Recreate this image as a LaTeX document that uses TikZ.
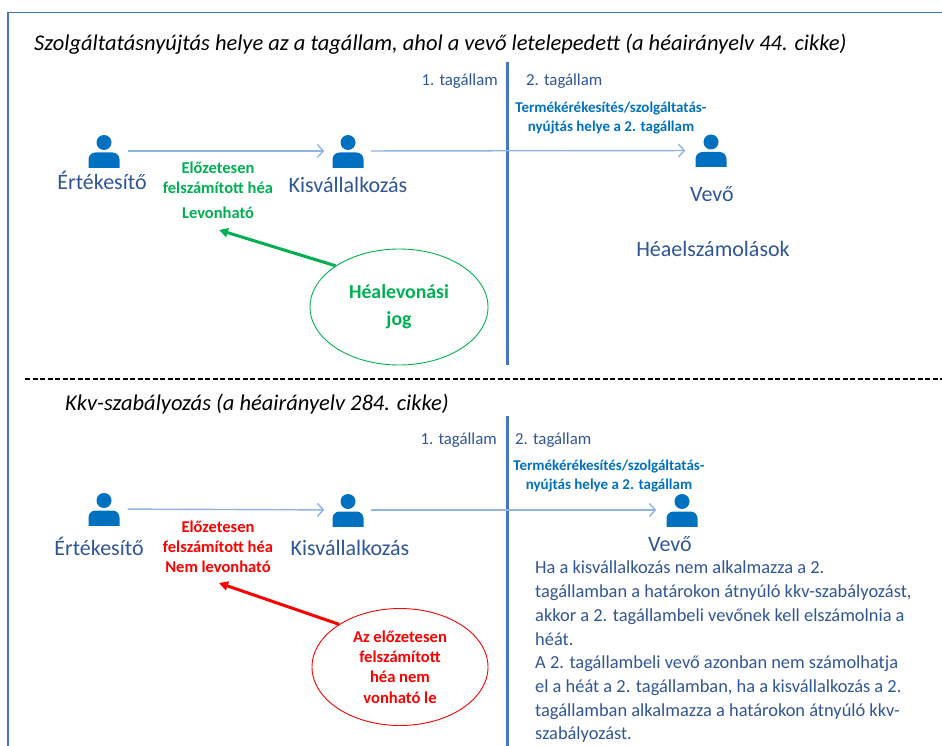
\documentclass[tikz,border=0pt]{standalone}
\usepackage{fontspec}
\setmainfont{Carlito}
\usetikzlibrary{arrows.meta,shapes.geometric}
\definecolor{frameblue}{RGB}{68,114,196}
\definecolor{txtblue}{RGB}{47,85,151}
\definecolor{iconblue}{RGB}{0,112,192}
\definecolor{boldblue}{RGB}{0,112,192}
\definecolor{flowblue}{RGB}{143,180,225}
\definecolor{okgreen}{RGB}{0,176,80}
\definecolor{nored}{RGB}{255,0,0}
\begin{document}
\begin{tikzpicture}[x=1pt,y=-1pt,
  person/.style={minimum width=31pt, minimum height=33pt, inner sep=0pt,
    path picture={
      \begin{scope}[shift={(path picture bounding box.center)}]
        \fill[iconblue] (0,-8.5) circle (7.5pt);
        \fill[iconblue, rounded corners=7pt] (-15.5,26) -- (-15.5,1.5) -- (15.5,1.5) -- (15.5,26) -- cycle;
      \end{scope}}},
  flow/.style={draw=flowblue, line width=1.4pt, -{Straight Barb[length=6pt,width=13pt]}},
  titletxt/.style={font=\fontsize{22.5}{27}\selectfont\itshape, anchor=base west, inner sep=0pt},
  statetxt/.style={font=\fontsize{16.8}{20}\selectfont, text=txtblue, anchor=base, inner sep=0pt},
  nametxt/.style={font=\fontsize{22}{26}\selectfont, text=txtblue, anchor=base, inner sep=0pt},
  placetxt/.style={font=\fontsize{15}{19}\selectfont\bfseries, text=boldblue, align=center, inner sep=0pt},
  greentxt/.style={font=\fontsize{16.5}{20}\selectfont\bfseries, text=okgreen, align=center, inner sep=0pt},
  redtxt/.style={font=\fontsize{16.5}{20}\selectfont\bfseries, text=nored, align=center, inner sep=0pt},
  bubble/.style={ellipse, draw, line width=0.9pt, inner sep=0pt, align=center},
  divider/.style={draw=frameblue, line width=3pt}
]
\path[use as bounding box] (0,0) rectangle (942,746);
% frame
\coordinate (fl) at (8,12.5);
\coordinate (fr) at (942,12.5);
\coordinate (fb) at (8,746);
\draw[frameblue, line width=1.8pt] (fb) -- (fl) -- (fr);

% ===== top part =====
\node[titletxt] (t1) at (34,51) {Szolgáltatásnyújtás helye az a tagállam, ahol a vevő letelepedett (a héairányelv 44. cikke)};
\coordinate (v1a) at (507,62);
\coordinate (v1b) at (507,365);
\draw[divider] (v1a) -- (v1b);
\node[statetxt, anchor=base east] (s11) at (498,86) {1. tagállam};
\node[statetxt, anchor=base west] (s12) at (526,86) {2. tagállam};
\node[placetxt] (p1) at (611,118.5) {Termékérékesítés/szolgáltatás-\\nyújtás helye a 2. tagállam};

\node[person] (e1) at (104,151) {};
\node[person] (k1) at (348,151) {};
\node[person] (v1) at (711,150.5) {};
\draw[flow, shorten <=8pt, shorten >=8pt] (e1) -- (k1);
\draw[flow, shorten <=7.5pt, shorten >=10pt] (k1) -- (v1);

\node[nametxt] (en1) at (102,190) {Értékesítő};
\node[nametxt] (kn1) at (348,193) {Kisvállalkozás};
\node[nametxt] (vn1) at (712,201) {Vevő};
\node[greentxt] (g1) at (218,190.5) {Előzetesen\\felszámított héa\\[5pt]Levonható};
\node[nametxt] (h1) at (713,256) {Héaelszámolások};

\node[bubble, draw=okgreen, text=okgreen, minimum width=178pt, minimum height=116pt,
      font=\fontsize{19.8}{27}\selectfont\bfseries] (c1) at (399,307) {Héalevonási\\jog};
\coordinate (gt) at (219,230);
\draw[okgreen, line width=3pt, -{Triangle[length=9pt,width=9pt]}] (c1.147) -- (gt);

% divider
\coordinate (da) at (25,379);
\coordinate (db) at (942,379);
\draw[black, line width=1.2pt, dash pattern=on 5pt off 2.5pt] (da) -- (db);

% ===== bottom part =====
\node[titletxt] (t2) at (65,410) {Kkv-szabályozás (a héairányelv 284. cikke)};
\coordinate (v2a) at (507,416);
\coordinate (v2b) at (507,746);
\draw[divider] (v2a) -- (v2b);
\node[statetxt, anchor=base east] (s21) at (497,444) {1. tagállam};
\node[statetxt, anchor=base west] (s22) at (515,444) {2. tagállam};
\node[placetxt] (p2) at (609,476.5) {Termékérékesítés/szolgáltatás-\\nyújtás helye a 2. tagállam};

\node[person] (e2) at (104,509) {};
\node[person] (k2) at (348,510) {};
\node[person] (v2) at (682,510) {};
\draw[flow, shorten <=8pt, shorten >=8pt] (e2) -- (k2);
\draw[flow, shorten <=7.5pt, shorten >=10pt] (k2) -- (v2);

\node[nametxt] (en2) at (99,555) {Értékesítő};
\node[nametxt] (kn2) at (350,555) {Kisvállalkozás};
\node[nametxt] (vn2) at (670,551) {Vevő};
\node[redtxt] (r2) at (218,547) {Előzetesen\\felszámított héa\\Nem levonható};

\node[bubble, draw=nored, text=nored, minimum width=176pt, minimum height=117pt,
      font=\fontsize{16.6}{20.3}\selectfont\bfseries] (c2) at (400,667) {Az előzetesen\\felszámított\\héa nem\\vonható le};
\coordinate (rt) at (219,583);
\draw[nored, line width=3pt, -{Triangle[length=9pt,width=9pt]}] (c2.145) -- (rt);

\node[anchor=west, align=left, inner sep=0pt, text=txtblue,
      font=\fontsize{18.4}{23.7}\selectfont] (body) at (535,652) {Ha a kisvállalkozás nem alkalmazza a 2.\\tagállamban a határokon átnyúló kkv-szabályozást,\\akkor a 2. tagállambeli vevőnek kell elszámolnia a\\héát.\\A 2. tagállambeli vevő azonban nem számolhatja\\el a héát a 2. tagállamban, ha a kisvállalkozás a 2.\\tagállamban alkalmazza a határokon átnyúló kkv-\\szabályozást.};
\end{tikzpicture}
\end{document}
